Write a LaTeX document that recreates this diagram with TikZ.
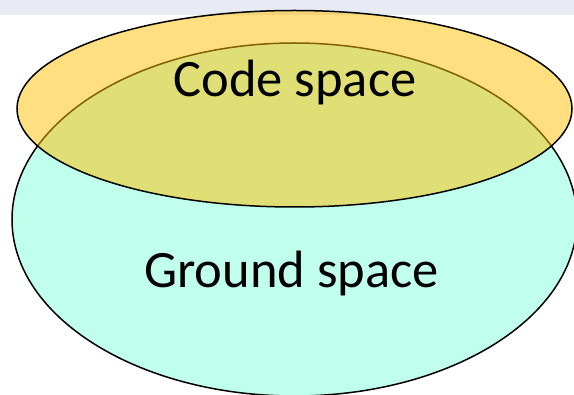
\documentclass[tikz,border=0pt]{standalone}
\usepackage{fontspec}
\setmainfont{Carlito}

\definecolor{groundfill}{RGB}{191,255,236}
\definecolor{codefill}{RGB}{255,192,0}
\definecolor{topband}{RGB}{232,234,244}

\begin{document}
\begin{tikzpicture}[x=1pt, y=-1pt, line width=1.5pt]
		\useasboundingbox (0, 0) rectangle (574, 395);

		% thin strip along the top edge
		\fill [topband] (0, 0) rectangle (574, 15);

		% ground space: the large ellipse underneath
		\draw [fill=groundfill] (294.5, 219.5) ellipse [x radius=282.5pt, y radius=176.5pt];

		% code space on top, half transparent so the overlap turns olive
		\draw [fill=codefill, fill opacity=0.5] (294.5, 108.75) ellipse [x radius=277.5pt, y radius=98.25pt];

		\node (code) [anchor=base, inner sep=0pt, font=\fontsize{52.5}{63}\selectfont] at (295, 97) {Code space};
		\node (ground) [anchor=base, inner sep=0pt, font=\fontsize{52.5}{63}\selectfont] at (291.5, 288) {Ground space};
	\end{tikzpicture}
\end{document}
